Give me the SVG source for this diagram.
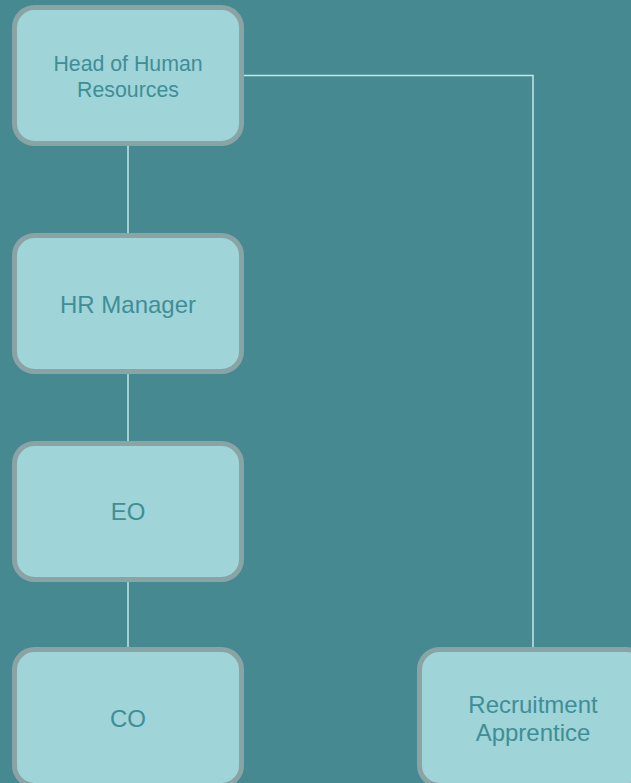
<svg xmlns="http://www.w3.org/2000/svg" width="631" height="783" viewBox="0 0 631 783">
  <style>
    .box { fill: #9fd4d9; stroke: #8aa4a6; stroke-width: 5; }
    .lbl { font-family: "Liberation Sans", Arial, sans-serif; font-size: 24px; fill: #3f8e96; text-anchor: middle; }
    .small { font-size: 21.3px; }
    .wire { fill: none; stroke: #c6e6ea; stroke-width: 1.5; }
  </style>
  <rect x="0" y="0" width="631" height="783" fill="#468991"/>

  <g id="connectors">
    <path class="wire" d="M128 146 V233"/>
    <path class="wire" d="M128 374 V441"/>
    <path class="wire" d="M128 581 V647"/>
    <path class="wire" d="M244 75.5 H533 V647"/>
  </g>

  <g id="head-of-hr">
    <rect class="box" x="14.5" y="7.5" width="227" height="136" rx="20"/>
    <text class="lbl small" x="128" y="70.5">Head of Human</text>
    <text class="lbl small" x="128" y="96.5">Resources</text>
  </g>

  <g id="hr-manager">
    <rect class="box" x="14.5" y="235.5" width="227" height="136" rx="20"/>
    <text class="lbl" x="128" y="312.5">HR Manager</text>
  </g>

  <g id="eo">
    <rect class="box" x="14.5" y="443.5" width="227" height="136" rx="20"/>
    <text class="lbl" x="128" y="520">EO</text>
  </g>

  <g id="co">
    <rect class="box" x="14.5" y="649.5" width="227" height="136" rx="20"/>
    <text class="lbl" x="128" y="727">CO</text>
  </g>

  <g id="recruitment-apprentice">
    <rect class="box" x="419.5" y="649.5" width="227" height="136" rx="20"/>
    <text class="lbl" x="533" y="712.5">Recruitment</text>
    <text class="lbl" x="533" y="741">Apprentice</text>
  </g>
</svg>
